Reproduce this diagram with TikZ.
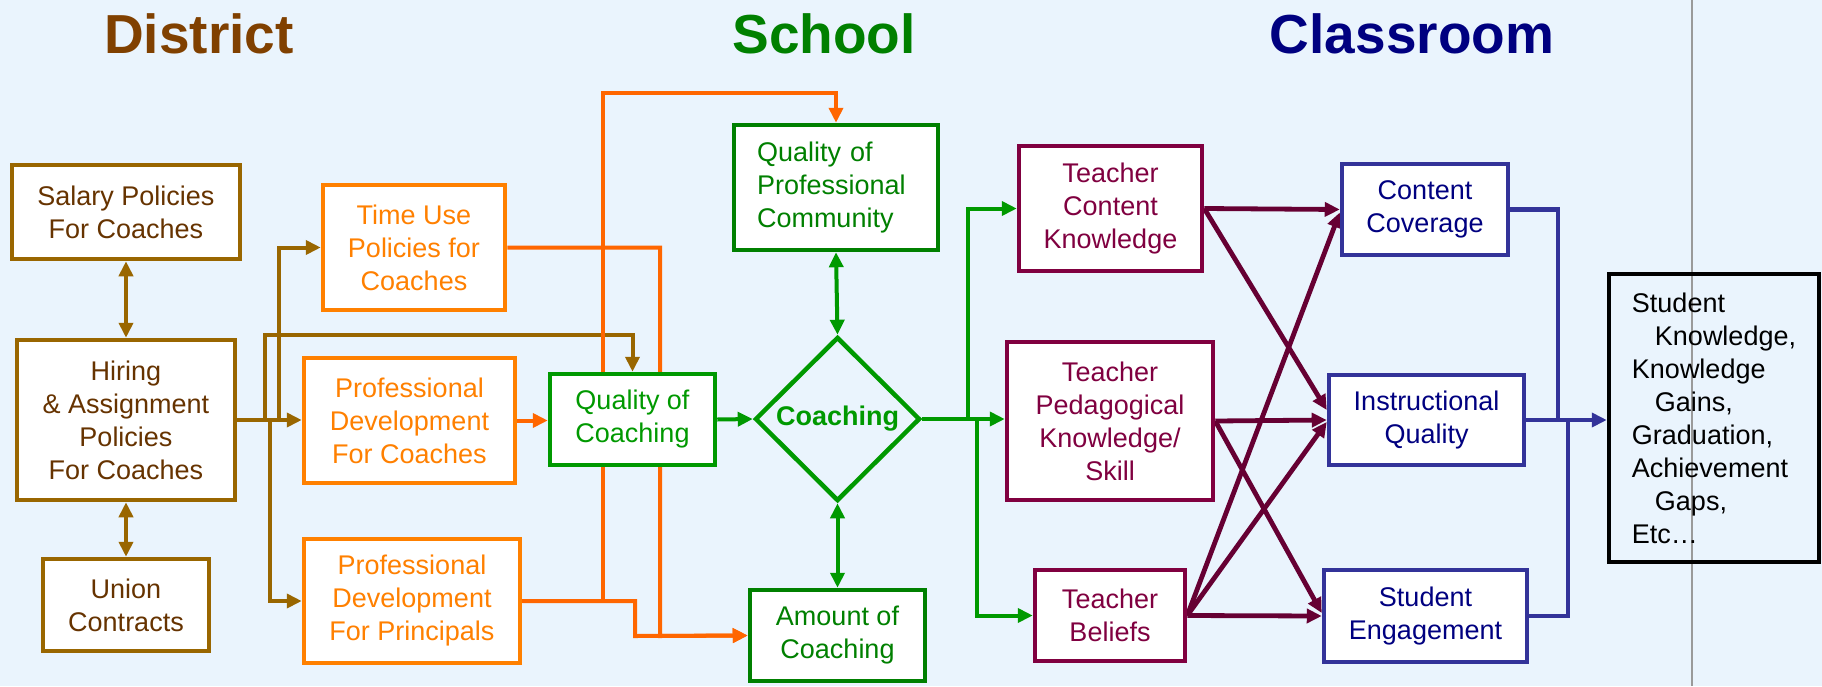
\documentclass[tikz,border=0pt]{standalone}
\usepackage{fontspec}
\setmainfont{Liberation Sans}
\usetikzlibrary{arrows.meta,shapes.geometric}
\pgfdeclarelayer{bgzero}
\pgfdeclarelayer{lines}
\pgfsetlayers{bgzero,lines,main}
\definecolor{bgc}{HTML}{EAF4FD}
\definecolor{brB}{HTML}{996600}
\definecolor{brT}{HTML}{663300}
\definecolor{brTitle}{HTML}{804000}
\definecolor{orB}{HTML}{FF8000}
\definecolor{orL}{HTML}{FF6600}
\definecolor{grD}{HTML}{008000}
\definecolor{grL}{HTML}{009900}
\definecolor{maB}{HTML}{800040}
\definecolor{maL}{HTML}{660033}
\definecolor{nvB}{HTML}{333399}
\definecolor{nvT}{HTML}{000080}
\definecolor{grayL}{HTML}{9A9A9A}
\begin{document}
\begin{tikzpicture}[x=1pt,y=-1pt,
  box/.style={draw, line width=4.5pt, fill=white, inner sep=0pt, align=center,
              font=\fontsize{27}{33}\selectfont},
  bsize/.style 2 args={minimum width=#1pt, minimum height=#2pt},
  brownbox/.style={box, draw=brB, text=brT},
  orangebox/.style={box, draw=orB, text=orB},
  greenbox/.style={box, draw=grD, text=grD},
  lgreenbox/.style={box, draw=grL, text=grL},
  maroonbox/.style={box, draw=maB, text=maB},
  navybox/.style={box, draw=nvB, text=nvT},
  title/.style={anchor=base, font=\fontsize{55}{60}\selectfont\bfseries},
  conn/.style={line width=4pt},
  tipA/.style={-{Triangle[length=15pt,width=14pt]}},
  tipAB/.style={{Triangle[length=15pt,width=14pt]}-{Triangle[length=15pt,width=14pt]}},
  brownline/.style={conn, draw=brB},
  orangeline/.style={conn, draw=orL},
  greenline/.style={conn, draw=grL},
  maroonline/.style={conn, line width=4.8pt, draw=maL},
  navyline/.style={conn, line width=4.5pt, draw=nvB}
]
\useasboundingbox (0,0) rectangle (1822,686);
\begin{pgfonlayer}{bgzero}
  \fill[bgc] (0,0) rectangle (1822,686);
\end{pgfonlayer}

% titles
\node[title, text=brTitle] (tdist) at (199,53) {District};
\node[title, text=grD] (tschool) at (824,53) {School};
\node[title, text=nvT] (tclass) at (1412,53) {Classroom};

% district
\node[brownbox, bsize={228}{94}] (salary) at (126,212) {Salary Policies\\For Coaches};
\node[brownbox, bsize={218}{160}] (hiring) at (126,420) {Hiring\\\& Assignment\\Policies\\For Coaches};
\node[brownbox, bsize={166}{92}] (union) at (126,605) {Union\\Contracts};
\node[orangebox, bsize={182}{125}] (timeuse) at (414,247.5) {Time Use\\Policies for\\Coaches};
\node[orangebox, bsize={211}{125}] (pdc) at (409.5,420.5) {Professional\\Development\\For Coaches};
\node[orangebox, bsize={216}{124}] (pdp) at (412,601) {Professional\\Development\\For Principals};

% school
\node[lgreenbox, bsize={165}{91}] (qc) at (632.5,419.5) {Quality of\\Coaching};
\node[greenbox, bsize={204}{125}, text width=158pt, align=left] (qpc) at (836,187.5) {Quality of\\Professional\\Community};
\node[diamond, draw=grL, line width=4.5pt, inner sep=0pt, minimum width=165pt, minimum height=164pt,
      text=grL, font=\fontsize{27}{33}\selectfont\bfseries] (coach) at (837.5,419) {Coaching};
\node[greenbox, bsize={175}{91}] (aoc) at (837.5,635.5) {Amount of\\Coaching};

% classroom
\node[maroonbox, bsize={183}{125}] (tck) at (1110.5,208.5) {Teacher\\Content\\Knowledge};
\node[maroonbox, bsize={206}{158}] (tpk) at (1110,421) {Teacher\\Pedagogical\\Knowledge/\\Skill};
\node[maroonbox, bsize={150}{91}] (tb) at (1110,615.5) {Teacher\\Beliefs};
\node[navybox, bsize={166}{91}] (cc) at (1425,209.5) {Content\\Coverage};
\node[navybox, bsize={195}{90}] (iq) at (1426.5,420) {Instructional\\Quality};
\node[navybox, bsize={203}{92}] (se) at (1425.5,616) {Student\\Engagement};

% outcome
\node[draw=black, line width=4.5pt, inner sep=0pt, bsize={210}{288}, align=left,
      font=\fontsize{27}{33}\selectfont] (out) at (1714,418)
  {Student\\\hspace*{23pt}Knowledge,\\Knowledge\\\hspace*{23pt}Gains,\\Graduation,\\Achievement\\\hspace*{23pt}Gaps,\\Etc…};

% junction coordinates
\coordinate (j1) at (265,420);
\coordinate (t1) at (265,335);
\coordinate (j2) at (279,420);
\coordinate (j3) at (270,420);
\coordinate (o1) at (660,636);
\coordinate (o2) at (603,93);
\coordinate (o3) at (635,636);
\coordinate (g1) at (968,419);
\coordinate (g2) at (977,419);
\coordinate (n1) at (1558,420);
\coordinate (n2) at (1568,420);
\coordinate (gtop) at (1692,0);
\coordinate (gbot) at (1692,686);

\begin{pgfonlayer}{lines}
  \draw[line width=2.5pt, grayL] (gtop) -- (gbot);
  % brown
  \draw[brownline, tipAB] (salary.south) -- (hiring.north);
  \draw[brownline, tipAB] (hiring.south) -- (union.north);
  \draw[brownline, tipA] (hiring.east) -- (hiring.east -| pdc.west);
  \draw[brownline, tipA] (hiring.east) -- (j2) |- (timeuse.west);
  \draw[brownline, tipA] (hiring.east) -- (j1) -- (t1) -| (qc.north);
  \draw[brownline, tipA] (hiring.east) -- (j3) |- (pdp.west);
  % orange
  \draw[orangeline, tipA] (pdc.east) -- (pdc.east -| qc.west);
  \draw[orangeline, tipA] (timeuse.east) -| (o1) -- (aoc.west);
  \draw[orangeline, tipA] (pdp.east) -| (o2) -| (qpc.north);
  \draw[orangeline, tipA] (pdp.east) -| (o3) -- (aoc.west);
  % green
  \draw[greenline, tipA] (qc.east) -- (coach.west);
  \draw[greenline, tipAB] (qpc.south) -- (coach.north);
  \draw[greenline, tipAB] (coach.south) -- (aoc.north);
  \draw[greenline, tipA] (coach.east) -- (coach.east -| tpk.west);
  \draw[greenline, tipA] (coach.east) -- (g1) |- (tck.west);
  \draw[greenline, tipA] (coach.east) -- (g2) |- (tb.west);
  % maroon
  \draw[maroonline, tipA] (tck.east) -- (cc.west);
  \draw[maroonline, tipA] (tck.east) -- ([yshift=10pt]iq.west);
  \draw[maroonline, tipA] (tpk.east) -- (iq.west);
  \draw[maroonline, tipA] (tpk.east) -- ([yshift=3pt]se.west);
  \draw[maroonline, tipA] (tb.east) -- (se.west);
  \draw[maroonline, tipA] (tb.east) -- ([yshift=-3pt]cc.west);
  \draw[maroonline, tipA] (tb.east) -- ([yshift=-2pt]iq.west);
  % navy
  \draw[navyline] (cc.east) -| (n1);
  \draw[navyline] (se.east) -| (n2);
  \draw[navyline, tipA] (iq.east) -- (iq.east -| out.west);
\end{pgfonlayer}
\end{tikzpicture}
\end{document}
